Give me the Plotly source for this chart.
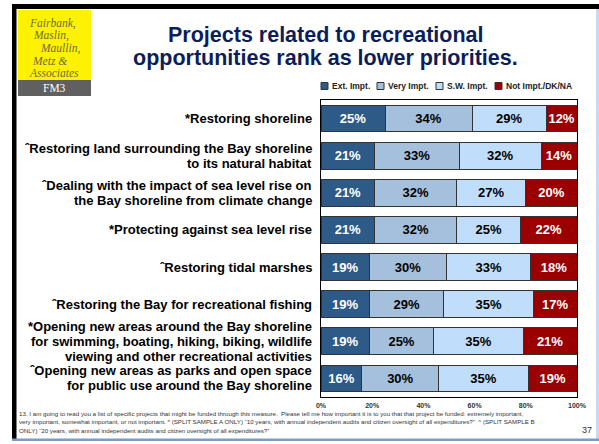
import plotly.graph_objects as go

# ---- data -------------------------------------------------------------
categories = [
    "*Restoring shoreline",
    "ˆRestoring land surrounding the Bay shoreline<br>to its natural habitat",
    "ˆDealing with the impact of sea level rise on<br>the Bay shoreline from climate change",
    "*Protecting against sea level rise",
    "ˆRestoring tidal marshes",
    "ˆRestoring the Bay for recreational fishing",
    "*Opening new areas around the Bay shoreline<br>for swimming, boating, hiking, biking, wildlife<br>viewing and other recreational activities",
    "ˆOpening new areas as parks and open space<br>for public use around the Bay shoreline",
]
ext_impt = [25, 21, 21, 21, 19, 19, 19, 16]
very_impt = [34, 33, 32, 32, 30, 29, 25, 30]
sw_impt = [29, 32, 27, 25, 33, 35, 35, 35]
not_impt = [12, 14, 20, 22, 18, 17, 21, 19]
series_names = ["Ext. Impt.", "Very Impt.", "S.W. Impt.", "Not Impt./DK/NA"]
x_tickvals = [0, 20, 40, 60, 80, 100]
x_ticktext = ["0%", "20%", "40%", "60%", "80%", "100%"]

title_lines = ["Projects related to recreational", "opportunities rank as lower priorities."]
logo_lines = ["Fairbank,", "Maslin,", "Maullin,", "Metz &", "Associates"]
footnote_lines = [
    "13. I am going to read you a list of specific projects that might be funded through this measure.  "
    "Please tell me how important it is to you that that project be funded: extremely important,",
    "very important, somewhat important, or not important. * (SPLIT SAMPLE A ONLY) \u201c10 years, with annual "
    "independent audits and citizen oversight of all expenditures?\u201d  ^ (SPLIT SAMPLE B",
    "ONLY) \u201c20 years, with annual independent audits and citizen oversight of all expenditures?\u201d",
]
page_no = "37"

# ---- styling ----------------------------------------------------------
colors = ["#2E5A87", "#A5C0DD", "#C0DEFC", "#9A0000"]
text_colors = ["white", "black", "black", "white"]
FONT = "Liberation Sans, Arial, sans-serif"
SERIF = "Liberation Serif, Times New Roman, serif"

W, H = 599, 444
L, R, T, B = 321, 22, 100, 47


def px(x):
    return (x - L) / (W - L - R)


def py(y):
    return (H - B - y) / (H - T - B)


def rect(x0, x1, y0, y1, fill, line=None):
    return dict(type="rect", xref="paper", yref="paper",
                x0=px(x0), x1=px(x1), y0=py(y0), y1=py(y1),
                fillcolor=fill, line=line or dict(width=0), layer="above")


fig = go.Figure()
for name, vals, col, tcol in zip(series_names, [ext_impt, very_impt, sw_impt, not_impt], colors, text_colors):
    fig.add_trace(
        go.Bar(
            y=categories,
            x=vals,
            name=name,
            orientation="h",
            marker=dict(color=col, line=dict(color="#333333", width=1)),
            text=[f"{v}%" for v in vals],
            textposition="inside",
            insidetextanchor="middle",
            textangle=0,
            textfont=dict(family=FONT, size=13, color=tcol, weight="bold"),
            hoverinfo="skip",
        )
    )

shapes = [
    # slide frame
    rect(12, 599, 4, 9, "black"),
    rect(12, 16.5, 4, 441, "black"),
    rect(596, 599, 9, 441, "#C9DAF0"),
    rect(12, 599, 438.5, 441, "#7F9CC0"),
    # logo
    rect(18, 91, 10, 80, "#FFF200"),
    rect(18, 91, 80, 96, "#606060"),
]

annotations = []

# category labels, one annotation per line so the line spacing matches
for cat in categories:
    lines = cat.split("<br>")
    n = len(lines)
    for j, line in enumerate(lines):
        annotations.append(dict(
            xref="paper", yref="y", x=0, y=cat, text=line, showarrow=False,
            xanchor="right", yanchor="middle", xshift=-7, yshift=((n - 1) / 2 - j) * 15,
            font=dict(family=FONT, size=13, color="black", weight="bold"),
        ))

for i, line in enumerate(title_lines):
    annotations.append(dict(
        xref="paper", yref="paper", x=px(325), y=py(35 + 23 * i), text=line, showarrow=False,
        xanchor="center", yanchor="middle",
        font=dict(family=FONT, size=21.5, color="#0B1E5B", weight="bold"),
    ))

logo_x = [27, 31, 38, 30, 27]
for i, line in enumerate(logo_lines):
    annotations.append(dict(
        xref="paper", yref="paper", x=px(logo_x[i]), y=py(23.5 + 12.4 * i), text=line, showarrow=False,
        xanchor="left", yanchor="middle",
        font=dict(family=SERIF, size=11.5, color="#6B6B45", style="italic"),
    ))
annotations.append(dict(
    xref="paper", yref="paper", x=px(54), y=py(88), text="FM3", showarrow=False,
    xanchor="center", yanchor="middle", font=dict(family=SERIF, size=11.5, color="white"),
))

# legend
legend_x = [321, 377, 436, 495]
for i, name in enumerate(series_names):
    x0 = legend_x[i]
    shapes.append(rect(x0, x0 + 7, 82.5, 89.5, colors[i], dict(color="#333333", width=1)))
    annotations.append(dict(
        xref="paper", yref="paper", x=px(x0 + 9), y=py(86), text=name, showarrow=False,
        xanchor="left", yanchor="middle", font=dict(family=FONT, size=8.5, color="#222222", weight="bold"),
    ))

for i, line in enumerate(footnote_lines):
    annotations.append(dict(
        xref="paper", yref="paper", x=px(17), y=py(413 + 8.5 * i), text=line, showarrow=False,
        xanchor="left", yanchor="middle", font=dict(family=FONT, size=6.2, color="#333333"),
    ))
annotations.append(dict(
    xref="paper", yref="paper", x=px(594), y=py(430), text=page_no, showarrow=False,
    xanchor="right", yanchor="middle", font=dict(family=FONT, size=9, color="#333333"),
))

fig.update_layout(
    width=W,
    height=H,
    margin=dict(l=L, r=R, t=T, b=B, pad=0),
    barmode="stack",
    bargap=0.28,
    showlegend=False,
    plot_bgcolor="white",
    paper_bgcolor="white",
    uniformtext=dict(minsize=13, mode="show"),
    xaxis=dict(
        range=[0, 100],
        tickvals=x_tickvals,
        ticktext=x_ticktext,
        tickfont=dict(family=FONT, size=7, color="#333333", weight="bold"),
        showgrid=False,
        zeroline=False,
        showline=True,
        mirror=True,
        linecolor="black",
        linewidth=1,
        ticks="",
        ticklabelstandoff=2,
        fixedrange=True,
    ),
    yaxis=dict(
        autorange="reversed",
        showticklabels=False,
        showgrid=False,
        zeroline=False,
        showline=True,
        mirror=True,
        linecolor="black",
        linewidth=1,
        ticks="",
        fixedrange=True,
    ),
    shapes=shapes,
    annotations=annotations,
)

fig.write_html(
    "out.html",
    config={"displayModeBar": False},
    post_script="document.body.style.margin='0';",
)
